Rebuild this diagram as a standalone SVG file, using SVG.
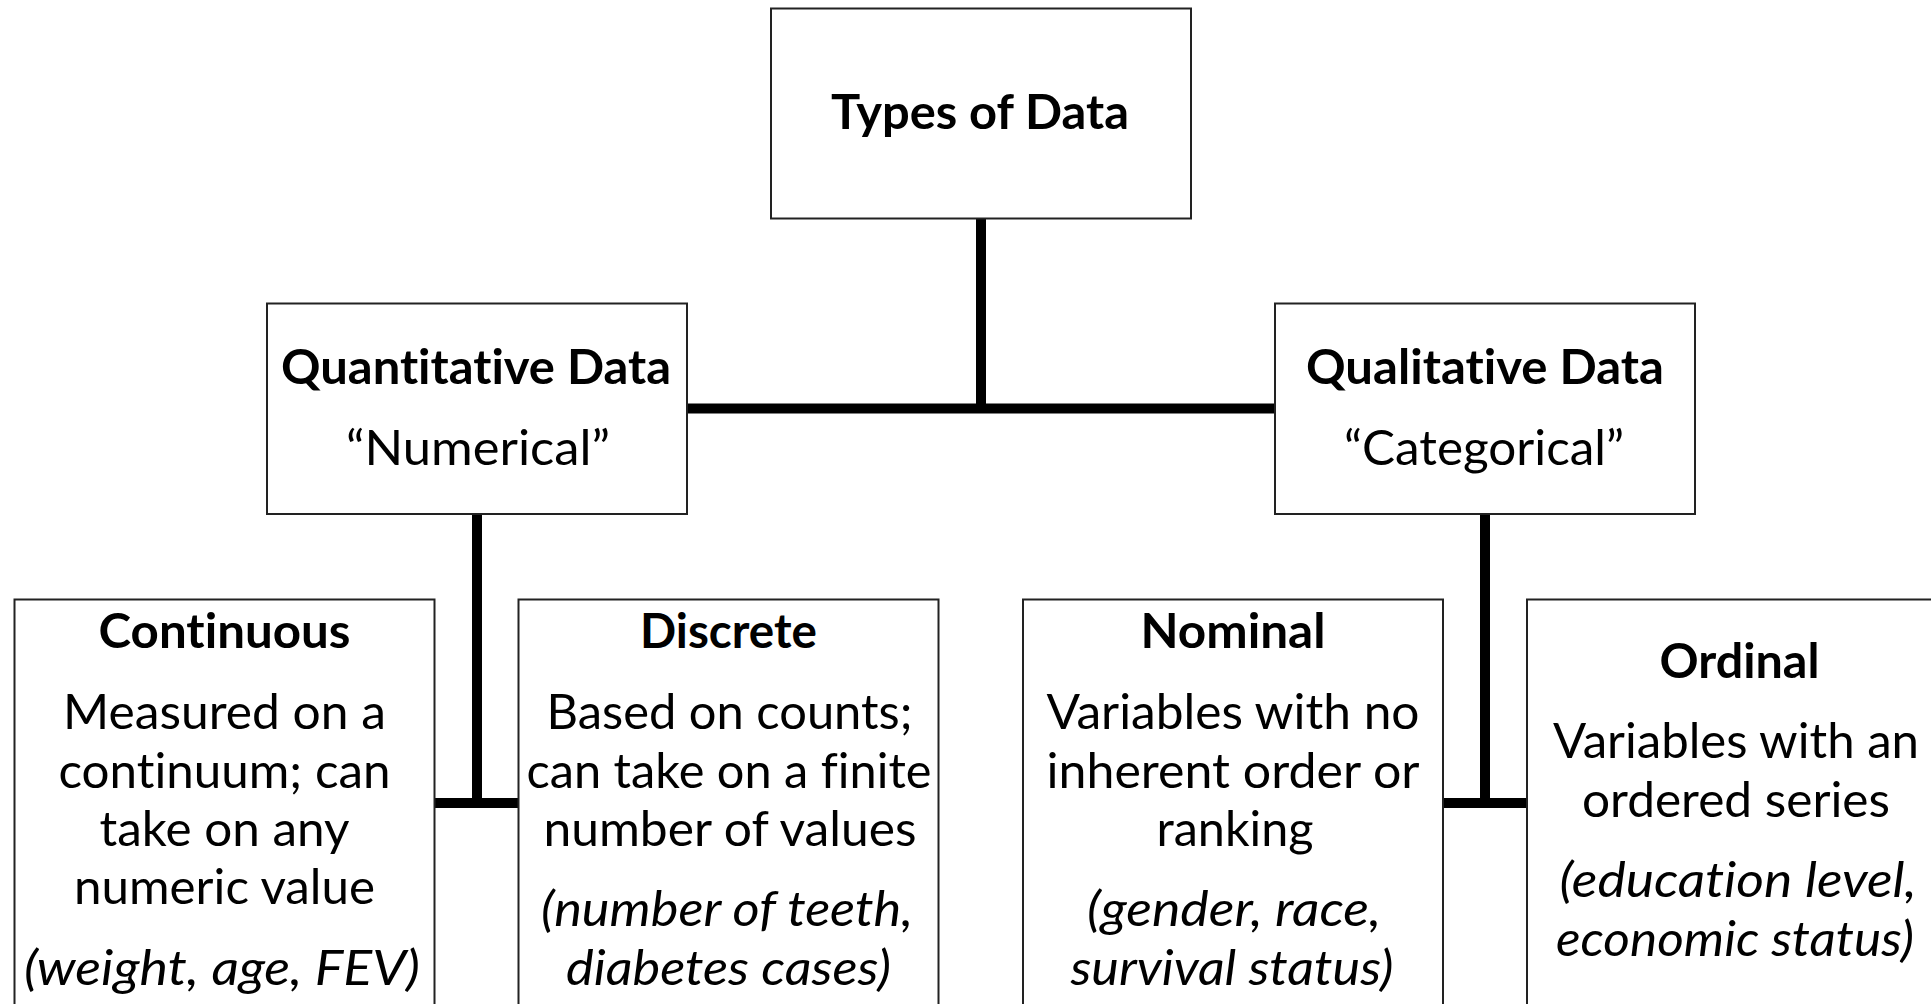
<svg xmlns="http://www.w3.org/2000/svg" width="1931" height="1004" viewBox="0 0 1931 1004">
<style>
.box{fill:#fff;stroke:#222;stroke-width:2}
.conn{stroke:#000;stroke-width:10;fill:none}
text{font-family:Lato,"Open Sans","DejaVu Sans",sans-serif;font-size:48px;fill:#000;text-anchor:middle;font-variant-ligatures:none;font-feature-settings:"liga" 0,"dlig" 0}
.b{font-weight:bold}
.i{font-style:italic}
</style>
<rect width="1931" height="1004" fill="#fff"/>
<g id="connectors">
<line class="conn" x1="981" y1="218" x2="981" y2="413"/>
<line class="conn" x1="687" y1="408.5" x2="1275" y2="408.5"/>
<line class="conn" x1="477" y1="514" x2="477" y2="808"/>
<line class="conn" x1="434.5" y1="803" x2="518.5" y2="803"/>
<line class="conn" x1="1485" y1="514" x2="1485" y2="808"/>
<line class="conn" x1="1443" y1="803" x2="1527" y2="803"/>
</g>
<g id="types">
<rect class="box" x="771" y="8.5" width="420" height="210"/>
<text class="b" x="980" y="128.5" textLength="298" lengthAdjust="spacingAndGlyphs">Types of Data</text>
</g>
<g id="quantitative">
<rect class="box" x="267" y="303.5" width="420" height="210.5"/>
<text class="b" x="476" y="384" textLength="390" lengthAdjust="spacingAndGlyphs">Quantitative Data</text>
<text x="478" y="464.5" textLength="264" lengthAdjust="spacingAndGlyphs">“Numerical”</text>
</g>
<g id="qualitative">
<rect class="box" x="1275" y="303.5" width="420" height="210.5"/>
<text class="b" x="1485" y="384" textLength="358" lengthAdjust="spacingAndGlyphs">Qualitative Data</text>
<text x="1484" y="464.5" textLength="280" lengthAdjust="spacingAndGlyphs">“Categorical”</text>
</g>
<g id="continuous">
<rect class="box" x="14.5" y="599.5" width="420" height="420"/>
<text class="b" x="224.5" y="648" textLength="252" lengthAdjust="spacingAndGlyphs">Continuous</text>
<text x="224.5" y="729" textLength="323" lengthAdjust="spacingAndGlyphs">Measured on a</text>
<text x="224.5" y="788" textLength="332" lengthAdjust="spacingAndGlyphs">continuum; can</text>
<text x="224.5" y="846" textLength="250" lengthAdjust="spacingAndGlyphs">take on any</text>
<text x="224.5" y="904" textLength="301" lengthAdjust="spacingAndGlyphs">numeric value</text>
<text class="i" x="222" y="985" textLength="396" lengthAdjust="spacingAndGlyphs">(weight, age, FEV)</text>
</g>
<g id="discrete">
<rect class="box" x="518.5" y="599.5" width="420" height="420"/>
<text class="b" x="728.5" y="648" textLength="177" lengthAdjust="spacingAndGlyphs">Discrete</text>
<text x="729.5" y="729" textLength="366" lengthAdjust="spacingAndGlyphs">Based on counts;</text>
<text x="729" y="788" textLength="405" lengthAdjust="spacingAndGlyphs">can take on a finite</text>
<text x="730" y="846" textLength="373" lengthAdjust="spacingAndGlyphs">number of values</text>
<text class="i" x="727" y="926" textLength="372" lengthAdjust="spacingAndGlyphs">(number of teeth,</text>
<text class="i" x="728.5" y="985" textLength="325" lengthAdjust="spacingAndGlyphs">diabetes cases)</text>
</g>
<g id="nominal">
<rect class="box" x="1023" y="599.5" width="420" height="420"/>
<text class="b" x="1233" y="648" textLength="185" lengthAdjust="spacingAndGlyphs">Nominal</text>
<text x="1233" y="729" textLength="373" lengthAdjust="spacingAndGlyphs">Variables with no</text>
<text x="1233" y="788" textLength="373" lengthAdjust="spacingAndGlyphs">inherent order or</text>
<text x="1235" y="846" textLength="157" lengthAdjust="spacingAndGlyphs">ranking</text>
<text class="i" x="1234" y="926" textLength="294" lengthAdjust="spacingAndGlyphs">(gender, race,</text>
<text class="i" x="1232" y="985" textLength="323" lengthAdjust="spacingAndGlyphs">survival status)</text>
</g>
<g id="ordinal">
<rect class="box" x="1527" y="599.5" width="420" height="420"/>
<text class="b" x="1739.5" y="678" textLength="160" lengthAdjust="spacingAndGlyphs">Ordinal</text>
<text x="1736" y="758" textLength="366" lengthAdjust="spacingAndGlyphs">Variables with an</text>
<text x="1736" y="817" textLength="308" lengthAdjust="spacingAndGlyphs">ordered series</text>
<text class="i" x="1738" y="897" textLength="357" lengthAdjust="spacingAndGlyphs">(education level,</text>
<text class="i" x="1735" y="956" textLength="358" lengthAdjust="spacingAndGlyphs">economic status)</text>
</g>
</svg>
